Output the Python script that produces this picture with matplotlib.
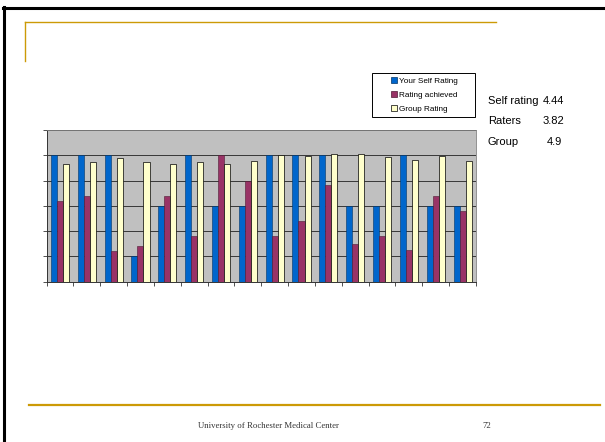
import numpy as np
import matplotlib.pyplot as plt
from matplotlib.patches import Patch, Rectangle
from matplotlib.lines import Line2D

## ------------------
## Data
## ------------------
items = list(range(1, 17))
self_rating = [5, 5, 5, 1, 3, 5, 3, 3, 5, 5, 5, 3, 3, 5, 3, 3]
rating_achieved = [3.19, 3.39, 1.19, 1.39, 3.39, 1.79, 5.0, 4.0,
                   1.79, 2.39, 3.81, 1.47, 1.81, 1.23, 3.39, 2.8]
group_rating = [4.67, 4.73, 4.88, 4.72, 4.65, 4.72, 4.67, 4.77,
                5.0, 4.96, 5.03, 5.05, 4.93, 4.83, 4.97, 4.77]
series_names = ["Your Self Rating", "Rating achieved", "Group Rating"]
summary_labels = ["Self rating", "Raters", "Group"]
summary_values = ["4.44", "3.82", "4.9"]

plt.rcParams['font.family'] = ['Liberation Sans', 'DejaVu Sans']

W, H = 605, 442
fig = plt.figure(figsize=(W / 100, H / 100), dpi=100)
fig.patch.set_facecolor('white')

def fx(px):
    return px / W

def fy(py):
    return 1 - py / H

## ------------------
## Slide decoration
## ------------------
gold = '#CC9A06'
fig.add_artist(Line2D([fx(3), fx(605)], [fy(7.5), fy(7.5)], color='black', lw=2.2))
fig.add_artist(Line2D([fx(4), fx(4)], [fy(7), fy(442)], color='black', lw=2.2))
fig.add_artist(Line2D([fx(25), fx(496)], [fy(21.5), fy(21.5)], color=gold, lw=1.0))
fig.add_artist(Line2D([fx(25), fx(25)], [fy(21.5), fy(61)], color=gold, lw=1.0))
fig.add_artist(Line2D([fx(29), fx(600)], [fy(404.5), fy(404.5)], color=gold, lw=1.6))
fig.text(fx(268), fy(426), "University of Rochester Medical Center", family='Liberation Serif',
         fontsize=6.3, color='#333333', ha='center', va='center')
fig.text(fx(487), fy(426), "72", family='Liberation Serif', fontsize=6.3,
         color='#333333', ha='center', va='center')

## ------------------
## Bar chart
## ------------------
ax = fig.add_axes([fx(46.5), fy(281.5), fx(476 - 46.5), (281.5 - 130) / H])
ax.set_facecolor('#C0C0C0')
x = np.arange(len(items))
w = 0.225
ax.bar(x - w, self_rating, w, color='#0066CC', edgecolor='#003366', linewidth=0.4, zorder=3)
ax.bar(x, rating_achieved, w, color='#993366', edgecolor='#4d1a33', linewidth=0.4, zorder=3)
ax.bar(x + w, group_rating, w, color='#FFFFCC', edgecolor='black', linewidth=0.5, zorder=3)

ax.set_xlim(-0.5, len(items) - 0.5)
ax.set_ylim(0, 6)
ax.set_yticks(range(0, 7))
ax.set_yticklabels([])
ax.set_xticks(np.arange(len(items) + 1) - 0.5)
ax.set_xticklabels([])
ax.tick_params(axis='both', direction='out', length=3, width=0.6, color='#333333')
ax.yaxis.grid(True, color='#222222', linewidth=0.6, zorder=1)
for s in ['top', 'right']:
    ax.spines[s].set_color('#808080')
    ax.spines[s].set_linewidth(0.6)
ax.spines['left'].set_color('#333333')
ax.spines['left'].set_linewidth(0.7)
ax.spines['bottom'].set_color('#333333')
ax.spines['bottom'].set_linewidth(0.7)

## legend: Excel-style box drawn separately, entries placed inside
fig.add_artist(Rectangle((fx(372), fy(117)), fx(475 - 372), (117 - 73) / H,
                         facecolor='white', edgecolor='black', lw=0.7))
handles = [Patch(facecolor='#0066CC', edgecolor='#003366', lw=0.5),
           Patch(facecolor='#993366', edgecolor='#4d1a33', lw=0.5),
           Patch(facecolor='#FFFFCC', edgecolor='black', lw=0.5)]
leg = fig.legend(handles, series_names, loc='center left',
                 bbox_to_anchor=(fx(391), fy(95)), fontsize=5.9, frameon=False,
                 handlelength=0.7, handleheight=0.7,
                 handletextpad=0.3, labelspacing=0.75, borderpad=0,
                 borderaxespad=0)

## ------------------
## Summary text
## ------------------
ys = [100.5, 121, 142]
xs = [542.7, 542.7, 546.7]
for lab, val, yy, xv in zip(summary_labels, summary_values, ys, xs):
    fig.text(fx(488), fy(yy), lab, fontsize=8, ha='left', va='center')
    fig.text(fx(xv), fy(yy), val, fontsize=8, ha='left', va='center')

fig.savefig('out.png', dpi=100)
